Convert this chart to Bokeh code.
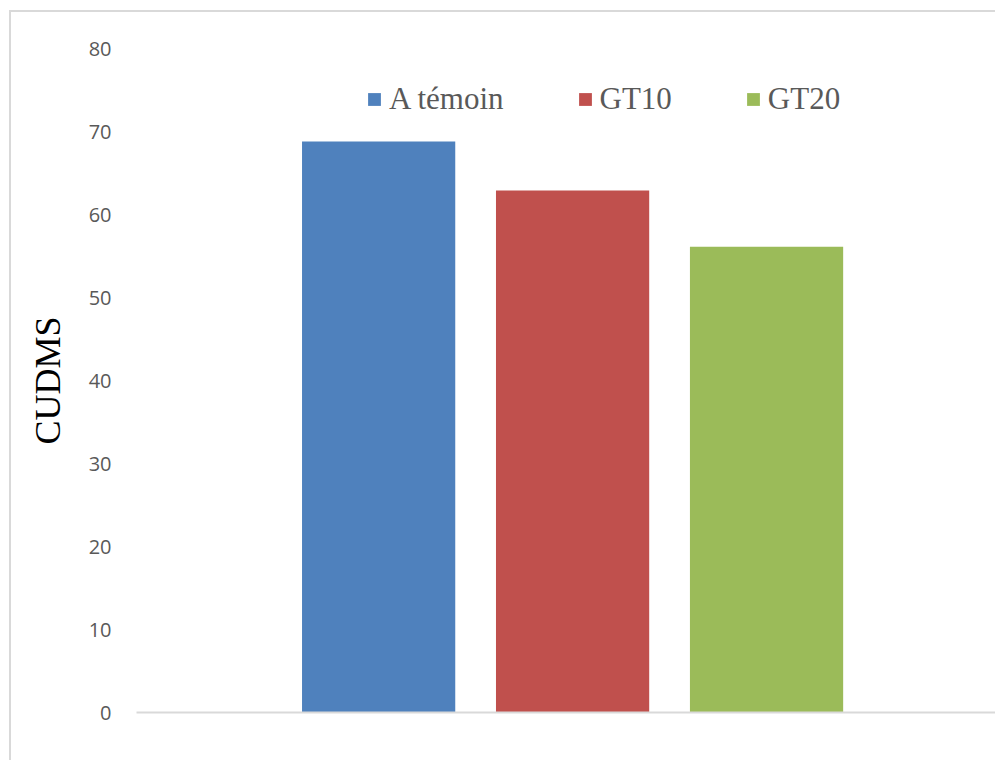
from bokeh.plotting import figure
from bokeh.models import FactorRange, Range1d, Legend, LegendItem, ColumnDataSource
from bokeh.transform import dodge
from bokeh.embed import file_html
from bokeh.resources import INLINE

categories = ["A témoin", "GT10", "GT20"]
values = [68.8, 62.9, 56.1]
colors = ["#4F81BD", "#C0504D", "#9BBB59"]
y_ticks = [0, 10, 20, 30, 40, 50, 60, 70, 80]
y_title = "CUDMS"

source = ColumnDataSource(data=dict(cat=categories, val=values, col=colors))

p = figure(width=995, height=760,
           x_range=FactorRange(factors=categories, range_padding=0.4763),
           y_range=Range1d(0, 80),
           output_backend="svg", toolbar_location=None,
           min_border_left=136, min_border_top=48, min_border_bottom=48, min_border_right=0)

# chart-area border (left and top edges, the rest is cropped in the reference)
p.border_fill_alpha = 0
p.background_fill_alpha = 0
p.styles = {
    "background": ("linear-gradient(#D9D9D9, #D9D9D9) 9px 10px / 2px 100% no-repeat, "
                   "linear-gradient(#D9D9D9, #D9D9D9) 9px 10px / 100% 2px no-repeat, #FFFFFF"),
}
p.outline_line_color = None
p.xgrid.grid_line_color = None
p.ygrid.grid_line_color = None

r = p.vbar(x=dodge("cat", 0.034, range=p.x_range), top="val", width=0.79,
           color="col", line_color=None, source=source)

# y axis
p.yaxis.ticker = y_ticks
p.yaxis.axis_line_color = None
p.yaxis.major_tick_line_color = None
p.yaxis.minor_tick_line_color = None
p.yaxis.major_tick_out = 0
p.yaxis.major_label_standoff = 25
p.yaxis.major_label_text_font = "Open Sans"
p.yaxis.major_label_text_font_size = "20px"
p.yaxis.major_label_text_color = "#595959"
p.yaxis.axis_label = y_title
p.yaxis.axis_label_text_font = "Liberation Serif"
p.yaxis.axis_label_text_font_size = "36px"
p.yaxis.axis_label_text_font_style = "normal"
p.yaxis.axis_label_text_color = "#000000"
p.yaxis.axis_label_standoff = 18

# x axis
p.xaxis.axis_line_color = "#D9D9D9"
p.xaxis.axis_line_width = 2
p.xaxis.major_tick_line_color = None
p.xaxis.minor_tick_line_color = None
p.xaxis.major_label_text_alpha = 0
p.xaxis.major_label_text_font_size = "10px"

items = [LegendItem(label=c, renderers=[r], index=i) for i, c in enumerate(categories)]
legend = Legend(items=items, orientation="horizontal", location=(230, 595),
                padding=0, margin=0, spacing=73, glyph_width=16, glyph_height=16,
                label_standoff=7, label_text_font="Liberation Serif",
                label_text_font_size="31px", label_text_color="#595959",
                background_fill_alpha=0, border_line_color=None)
p.add_layout(legend, "center")

open("out.html", "w").write(file_html(p, INLINE))
